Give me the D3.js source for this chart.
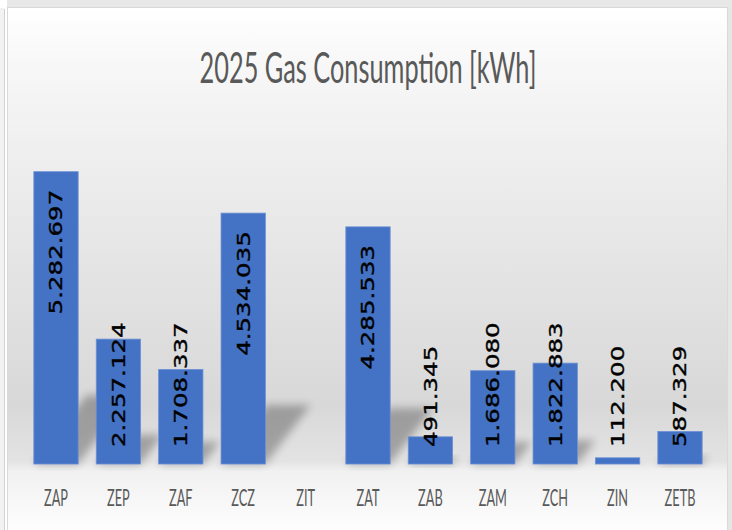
<!DOCTYPE html>
<html>
<head>
<meta charset="utf-8">
<script src="https://cdn.jsdelivr.net/npm/d3@7"></script>
<style>
  html, body { margin: 0; padding: 0; background: #fff; }
  svg { display: block; }
</style>
</head>
<body>
<svg class="chart"></svg>
<script>
const title_text = '2025 Gas Consumption [kWh]';
const categories = ['ZAP', 'ZEP', 'ZAF', 'ZCZ', 'ZIT', 'ZAT', 'ZAB', 'ZAM', 'ZCH', 'ZIN', 'ZETB'];
const values = [5282697, 2257124, 1708337, 4534035, null, 4285533, 491345, 1686080, 1822883, 112200, 587329];

const svg_width = 732;
const svg_height = 530;
const baseline = 464;

// thousands with dots, like the source sheet
const fmt = d3.formatLocale({decimal: ',', thousands: '.', grouping: [3], currency: ['', '']}).format(',d');

const data = categories.map((c, i) => ({name: c, value: values[i]}));

const svg = d3.select('.chart')
  .attr('width', svg_width)
  .attr('height', svg_height);

const defs = svg.append('defs');

const grad = defs.append('linearGradient')
  .attr('id', 'bg')
  .attr('x1', 0).attr('y1', 0).attr('x2', 0).attr('y2', 1);
[[0, '#ffffff'], [0.1, '#f8f8f8'], [0.27, '#efefef'], [0.56, '#e1e1e1'], [0.75, '#d8d8d8'],
 [0.856, '#e3e3e3'], [0.875, '#f1f1f1'], [1, '#ffffff']].forEach(s => {
  grad.append('stop').attr('offset', s[0]).attr('stop-color', s[1]);
});

defs.append('filter')
  .attr('id', 'blur')
  .attr('x', '-50%').attr('y', '-50%').attr('width', '200%').attr('height', '200%')
  .append('feGaussianBlur')
  .attr('stdDeviation', 4);

// frame bits around the chart
svg.append('rect').attr('x', 0).attr('y', 8).attr('width', 4).attr('height', svg_height).attr('fill', '#f2f2f2');
svg.append('line').attr('x1', 4.5).attr('x2', 4.5).attr('y1', 9).attr('y2', svg_height)
  .attr('stroke', '#d2d2d2');
svg.append('rect').attr('x', 7).attr('y', 0).attr('width', svg_width - 7).attr('height', 7).attr('fill', '#e8e8e8');
svg.append('rect').attr('x', 728).attr('y', 7).attr('width', 4).attr('height', svg_height).attr('fill', '#e6e6e6');

svg.append('rect')
  .attr('x', 7.5).attr('y', 7.5)
  .attr('width', 720).attr('height', svg_height)
  .attr('fill', 'url(#bg)')
  .attr('stroke', '#d9d9d9');

const x = d3.scaleBand()
  .domain(categories)
  .range([24.8, 711.2])
  .paddingInner(0.29)
  .paddingOuter(0.145);

const y = d3.scaleLinear()
  .domain([0, 6000000])
  .range([baseline, baseline - 332]);

const bars = data.filter(d => d.value != null);

// perspective shadows
svg.append('g')
  .selectAll('path')
  .data(bars)
  .enter()
  .append('path')
  .attr('d', d => {
    let h = baseline - y(d.value);
    let x0 = x(d.name);
    let x1 = x0 + x.bandwidth();
    let dh = h * 0.235;
    let dx = h * 0.18;
    return 'M' + x0 + ',' + baseline + 'L' + x1 + ',' + baseline +
      'L' + (x1 + dx) + ',' + (baseline - dh) + 'L' + (x0 + dx) + ',' + (baseline - dh) + 'Z';
  })
  .attr('fill', '#000')
  .attr('opacity', 0.28)
  .attr('filter', 'url(#blur)');

svg.append('g')
  .selectAll('rect')
  .data(bars)
  .enter()
  .append('rect')
  .attr('x', d => x(d.name))
  .attr('y', d => y(d.value))
  .attr('width', x.bandwidth())
  .attr('height', d => baseline - y(d.value))
  .attr('fill', '#4472c4')
  .attr('stroke', '#6b90d6')
  .attr('stroke-width', 0.8);

// value labels, rotated and narrowed
const lab_sx = 0.73;
svg.append('g')
  .selectAll('text')
  .data(bars)
  .enter()
  .append('text')
  .text(d => fmt(d.value))
  .attr('font-family', 'DejaVu Sans, Verdana, sans-serif')
  .attr('font-size', 24.5)
  .attr('fill', '#000')
  .attr('stroke', '#000')
  .attr('stroke-width', 0.5)
  .attr('dy', '0.36em')
  .attr('text-anchor', 'start')
  .each(function(d) {
    let len = this.getComputedTextLength();
    let cx = x(d.name) + x.bandwidth() / 2;
    let y_start = Math.min(y(d.value) + 18 + len, baseline - 17);
    d3.select(this).attr('transform',
      'translate(' + cx + ',' + y_start + ') scale(' + lab_sx + ',1) rotate(-90)');
  });

// category labels
const cat_text = svg.append('g')
  .selectAll('text')
  .data(categories)
  .enter()
  .append('text')
  .text(d => d)
  .attr('font-family', 'Lato, Open Sans, sans-serif')
  .attr('font-size', 24)
  .attr('fill', '#595959')
  .attr('text-anchor', 'middle');

let zap_w = cat_text.filter(d => d === 'ZAP').node().getComputedTextLength();
let cat_sx = 24 / zap_w;
cat_text.attr('transform', d => 'translate(' + (x(d) + x.bandwidth() / 2) + ',506) scale(' + cat_sx + ',1)');

// title
const title = svg.append('text')
  .text(title_text)
  .attr('font-family', 'Lato, Open Sans, sans-serif')
  .attr('font-weight', 400)
  .attr('font-size', 43)
  .attr('fill', '#595959')
  .attr('text-anchor', 'middle');

let title_sx = 337 / title.node().getComputedTextLength();
title.attr('transform', 'translate(368,83) scale(' + title_sx + ',1)');
</script>
</body>
</html>
